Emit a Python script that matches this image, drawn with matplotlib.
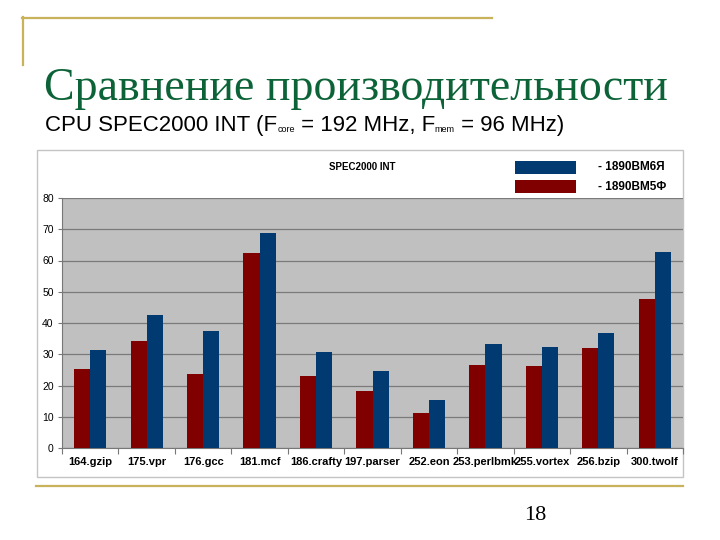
import matplotlib.pyplot as plt
import numpy as np
from matplotlib.patches import Rectangle
from matplotlib.lines import Line2D

benchmarks = ['164.gzip', '175.vpr', '176.gcc', '181.mcf', '186.crafty', '197.parser',
              '252.eon', '253.perlbmk', '255.vortex', '256.bzip', '300.twolf']
vm5f = [25.4, 34.2, 23.7, 62.4, 23.0, 18.1, 11.1, 26.7, 26.4, 32.0, 47.8]
vm6ya = [31.4, 42.7, 37.4, 68.7, 30.7, 24.5, 15.5, 33.4, 32.3, 36.7, 62.7]
series_names = ['- 1890ВМ6Я', '- 1890ВМ5Ф']
title = 'Сравнение производительности'
chart_title = 'SPEC2000 INT'

RED = '#800000'
BLUE = '#003a70'
GOLD = '#c8b25a'
W, H = 720, 540

fig = plt.figure(figsize=(7.2, 5.4), dpi=100)


def fx(x):
    return x / W


def fy(y):
    return 1 - y / H


# slide decorations
fig.add_artist(Line2D([fx(22), fx(492)], [fy(17.5), fy(17.5)], color=GOLD, lw=1.6))
fig.add_artist(Line2D([fx(22.5), fx(22.5)], [fy(17), fy(65)], color=GOLD, lw=1.6))
fig.add_artist(Line2D([fx(36), fx(683)], [fy(485.5), fy(485.5)], color=GOLD, lw=1.6))

fig.text(fx(44), fy(100), title, family='Liberation Serif', fontsize=33,
         color='#0d6338', va='baseline', ha='left')

# subtitle with small subscripts, pieces placed one after another
fig.canvas.draw()
renderer = fig.canvas.get_renderer()
pieces = [('CPU SPEC2000 INT (F', 16, 0), ('core', 6.5, -1), (' = 192 MHz, F', 16, 0),
          ('mem', 6.5, -1), (' = 96 MHz)', 16, 0)]
xpos = 45
for s, size, dy in pieces:
    t = fig.text(fx(xpos), fy(131 - dy), s, family='Liberation Sans', fontsize=size,
                 va='baseline', ha='left', color='black')
    bb = t.get_window_extent(renderer)
    xpos += bb.width

fig.text(fx(524), fy(520), '18', family='Liberation Serif', fontsize=16,
         va='baseline', ha='left')

# chart frame
fig.add_artist(Rectangle((fx(37), fy(477)), fx(683 - 37), (477 - 150) / H,
                         transform=fig.transFigure, facecolor='white',
                         edgecolor='#c4c4c4', lw=1.0, zorder=0))

fig.text(fx(362), fy(167), chart_title, fontsize=7, fontweight='bold',
         family='Liberation Sans', va='center', ha='center')

# legend drawn as in the original slide
leg_colors = [BLUE, RED]
leg_y = [167, 186.5]
for name, c, y in zip(series_names, leg_colors, leg_y):
    fig.add_artist(Rectangle((fx(515), fy(y + 6.5)), fx(61), 13 / H,
                             transform=fig.transFigure, facecolor=c, edgecolor='none'))
    fig.text(fx(598), fy(y), name, fontsize=8.5, fontweight='bold',
             family='Liberation Sans', va='center', ha='left')

ax = fig.add_axes([fx(62), fy(448), fx(683 - 62), (448 - 198) / H])
ax.set_facecolor('#c0c0c0')

x = np.arange(len(benchmarks))
bw = 1 / 3.5
ax.bar(x - bw / 2, vm5f, bw, color=RED, zorder=3)
ax.bar(x + bw / 2, vm6ya, bw, color=BLUE, zorder=3)

ax.set_xlim(-0.5, len(benchmarks) - 0.5)
ax.set_ylim(0, 80)
ax.set_yticks(range(0, 81, 10))
ax.yaxis.grid(True, color='#7a7a7a', lw=0.9, zorder=1)
ax.set_axisbelow(True)

ax.set_xticks(np.arange(len(benchmarks) + 1) - 0.5)
ax.set_xticklabels([])
ax.tick_params(axis='x', length=4, color='#777777', width=0.8)
ax.tick_params(axis='y', length=3, color='#777777', width=0.8, labelsize=7.5, pad=3)
for lab in ax.get_yticklabels():
    lab.set_family('Liberation Sans')

for i, name in enumerate(benchmarks):
    ax.text(i, -4.5, name, fontsize=8, fontweight='bold', family='Liberation Sans',
            ha='center', va='center', transform=ax.transData)

for side in ['top', 'right']:
    ax.spines[side].set_visible(False)
ax.spines['left'].set_color('#777777')
ax.spines['bottom'].set_color('#777777')

fig.savefig('out.png', dpi=100)
